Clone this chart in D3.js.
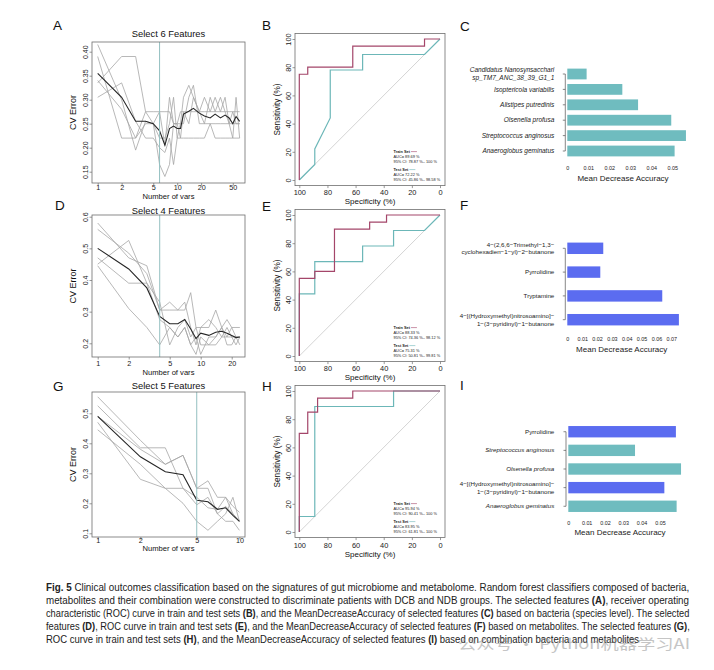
<!DOCTYPE html>
<html>
<head>
<meta charset="utf-8">
<script src="https://cdn.jsdelivr.net/npm/d3@7"></script>
<style>
  body { margin: 0; background: #fff; }
  svg { display: block; }
</style>
</head>
<body>
<svg id="fig" width="714" height="670"></svg>
<script>
// ---------- A: bacteria, rfcv ----------
const nVarsA = [1, 2, 3, 4, 5, 6, 7, 8, 9, 10, 11, 12, 14, 16, 19, 22, 26, 30, 35, 40, 45, 50, 55, 61];
const cvMeanA = [0.355, 0.305, 0.255, 0.255, 0.25, 0.235, 0.205, 0.24, 0.245, 0.24, 0.24, 0.27, 0.276, 0.282, 0.272, 0.266, 0.262, 0.27, 0.262, 0.268, 0.262, 0.25, 0.265, 0.255];
const cvRepsA = [
  [0.415, 0.300, 0.195, 0.255, 0.250, 0.220, 0.220, 0.250, 0.305, 0.220, 0.250, 0.305, 0.330, 0.305, 0.275, 0.305, 0.275, 0.305, 0.275, 0.305, 0.250, 0.275, 0.250, 0.250],
  [0.390, 0.220, 0.220, 0.250, 0.250, 0.165, 0.140, 0.165, 0.250, 0.250, 0.275, 0.275, 0.275, 0.275, 0.275, 0.275, 0.275, 0.275, 0.275, 0.275, 0.275, 0.275, 0.275, 0.275],
  [0.335, 0.390, 0.390, 0.275, 0.275, 0.275, 0.275, 0.275, 0.250, 0.250, 0.250, 0.250, 0.305, 0.330, 0.250, 0.250, 0.250, 0.250, 0.250, 0.250, 0.250, 0.250, 0.250, 0.250],
  [0.305, 0.335, 0.255, 0.220, 0.220, 0.200, 0.190, 0.220, 0.165, 0.220, 0.220, 0.275, 0.250, 0.305, 0.275, 0.250, 0.305, 0.275, 0.305, 0.275, 0.250, 0.220, 0.305, 0.220],
  [0.340, 0.280, 0.220, 0.275, 0.250, 0.275, 0.205, 0.305, 0.250, 0.250, 0.220, 0.220, 0.220, 0.220, 0.220, 0.220, 0.250, 0.220, 0.220, 0.220, 0.220, 0.220, 0.220, 0.220]
];

// ---------- D: metabolites, rfcv ----------
const nVarsD = [1, 2, 3, 4, 5, 6, 7, 8, 9, 10, 12, 14, 16, 18, 20, 22, 24];
const cvMeanD = [0.500, 0.435, 0.375, 0.285, 0.262, 0.262, 0.275, 0.245, 0.215, 0.232, 0.225, 0.235, 0.238, 0.232, 0.225, 0.218, 0.220];
const cvRepsD = [
  [0.580, 0.470, 0.445, 0.305, 0.305, 0.305, 0.305, 0.360, 0.250, 0.250, 0.250, 0.305, 0.250, 0.275, 0.250, 0.250, 0.250],
  [0.560, 0.485, 0.420, 0.305, 0.330, 0.305, 0.330, 0.250, 0.195, 0.250, 0.275, 0.250, 0.220, 0.250, 0.220, 0.220, 0.195],
  [0.450, 0.525, 0.390, 0.275, 0.250, 0.220, 0.250, 0.195, 0.220, 0.165, 0.220, 0.220, 0.250, 0.220, 0.220, 0.195, 0.220],
  [0.470, 0.390, 0.390, 0.330, 0.195, 0.250, 0.275, 0.220, 0.250, 0.195, 0.195, 0.195, 0.220, 0.220, 0.250, 0.220, 0.220],
  [0.445, 0.310, 0.250, 0.195, 0.250, 0.220, 0.250, 0.195, 0.165, 0.220, 0.195, 0.220, 0.250, 0.195, 0.195, 0.220, 0.220]
];

// ---------- G: combination, rfcv ----------
const nVarsG = [1, 2, 3, 4, 5, 6, 7, 8, 9, 10];
const cvMeanG = [0.490, 0.355, 0.305, 0.295, 0.210, 0.205, 0.180, 0.185, 0.160, 0.140];
const cvRepsG = [
  [0.555, 0.410, 0.330, 0.360, 0.250, 0.275, 0.220, 0.220, 0.190, 0.170],
  [0.525, 0.385, 0.385, 0.250, 0.220, 0.185, 0.180, 0.220, 0.165, 0.140],
  [0.470, 0.280, 0.250, 0.250, 0.195, 0.220, 0.165, 0.140, 0.140, 0.110],
  [0.445, 0.330, 0.250, 0.200, 0.140, 0.110, 0.140, 0.165, 0.220, 0.140],
  [0.490, 0.380, 0.330, 0.360, 0.250, 0.250, 0.165, 0.190, 0.165, 0.140]
];

// ---------- ROC curves: [specificity %, sensitivity %] ----------
const rocTrainB = [[100, 0], [100, 75], [94, 75], [94, 80], [62, 80], [62, 95], [11, 95], [11, 100], [0, 100]];
const rocTestB = [[100, 0], [89, 11], [89, 22], [78, 44], [78, 78], [55, 78], [55, 89], [11, 89], [0, 100]];
const rocTrainE = [[100, 0], [100, 55], [89, 55], [89, 60], [75, 60], [75, 90], [50, 90], [50, 95], [38, 95], [38, 100], [0, 100]];
const rocTestE = [[100, 0], [100, 44], [89, 44], [89, 67], [55, 67], [55, 78], [33, 78], [33, 89], [11, 89], [0, 100]];
const rocTrainH = [[100, 0], [100, 70], [94, 70], [94, 85], [87, 85], [87, 95], [62, 95], [62, 100], [0, 100]];
const rocTestH = [[100, 0], [100, 11], [89, 11], [89, 89], [33, 89], [33, 100], [0, 100]];
const rocTicks = [100, 80, 60, 40, 20, 0];
const statsB = ['AUC= 89.69 %', '95% CI: 78.87 %\u2013 100 %', 'AUC= 72.22 %', '95% CI: 45.86 %\u2013 98.58 %'];
const statsE = ['AUC= 88.33 %', '95% CI: 74.36 %\u2013 98.12 %', 'AUC= 75.31 %', '95% CI: 50.81 %\u2013 99.81 %'];
const statsH = ['AUC= 95.94 %', '95% CI: 90.41 %\u2013 100 %', 'AUC= 83.95 %', '95% CI: 61.81 %\u2013 100 %'];

// ---------- Mean decrease accuracy (top to bottom) ----------
const featuresC = ['Candidatus Nanosynsacchari\nsp_TM7_ANC_38_39_G1_1', 'Isoptericola variabilis', 'Alistipes putredinis',
  'Olsenella profusa', 'Streptococcus anginosus', 'Anaeroglobus geminatus'];
const mdaC = [0.0092, 0.0262, 0.0337, 0.0495, 0.0565, 0.0511];
const kindC = ['bac', 'bac', 'bac', 'bac', 'bac', 'bac'];
const ticksC = [0, 0.01, 0.02, 0.03, 0.04, 0.05];

const featuresF = ['4\u2212(2,6,6\u2212Trimethyl\u22121,3\u2212\ncyclohexadien\u22121\u2212yl)\u22122\u2212butanone', 'Pyrrolidine', 'Tryptamine',
  '4\u2212[(Hydroxymethyl)nitrosoamino]\u2212\n1\u2212(3\u2212pyridinyl)\u22121\u2212butanone'];
const mdaF = [0.0242, 0.0222, 0.0639, 0.0751];
const kindF = ['met', 'met', 'met', 'met'];
const ticksF = [0, 0.01, 0.02, 0.03, 0.04, 0.05, 0.06, 0.07];

const featuresI = ['Pyrrolidine', 'Streptococcus anginosus', 'Olsenella profusa',
  '4\u2212[(Hydroxymethyl)nitrosoamino]\u2212\n1\u2212(3\u2212pyridinyl)\u22121\u2212butanone', 'Anaeroglobus geminatus'];
const mdaI = [0.0587, 0.0364, 0.0615, 0.0524, 0.0591];
const kindI = ['met', 'bac', 'bac', 'met', 'bac'];
const ticksI = [0, 0.01, 0.02, 0.03, 0.04, 0.05];

const captionLines = [
  '**Fig. 5** Clinical outcomes classification based on the signatures of gut microbiome and metabolome. Random forest classifiers composed of bacteria,',
  'metabolites and their combination were constructed to discriminate patients with DCB and NDB groups. The selected features **(A)**, receiver operating',
  'characteristic (ROC) curve in train and test sets **(B)**, and the MeanDecreaseAccuracy of selected features **(C)** based on bacteria (species level). The selected',
  'features **(D)**, ROC curve in train and test sets **(E)**, and the MeanDecreaseAccuracy of selected features **(F)** based on metabolites. The selected features **(G)**,',
  'ROC curve in train and test sets **(H)**, and the MeanDecreaseAccuracy of selected features **(I)** based on combination bacteria and metabolites'
];
const captionWidths = [644, 644, 644, 644, 594];

// ================= drawing =================
const FONT = '"Liberation Sans", Arial, Helvetica, sans-serif';
const svg = d3.select('#fig').attr('font-family', FONT);

const greyCol = '#a6a6a6', meanCol = '#262626', selCol = '#93bfc0', boxCol = '#6e6e6e';
const trainCol = '#a4466a', testCol = '#6cb7b8';
const barCol = { bac: '#6fbcbf', met: '#5b6cf0' };

function letter(t, x, y) {
  svg.append('text').attr('x', x).attr('y', y).attr('font-size', 13.5).attr('fill', '#111').text(t);
}

function box(g, b) {
  g.append('rect').attr('x', b[0]).attr('y', b[2]).attr('width', b[1] - b[0]).attr('height', b[3] - b[2])
    .attr('fill', 'none').attr('stroke', boxCol).attr('stroke-width', 0.8);
}

function yAxisRot(g, scale, ticks, fmt, x0, off, fs) {
  const ax = g.append('g').attr('transform', `translate(${x0},0)`)
    .call(d3.axisLeft(scale).tickValues(ticks).tickFormat(fmt).tickSize(2.5));
  ax.select('.domain').remove();
  ax.attr('font-family', FONT).attr('font-size', fs);
  ax.selectAll('line').attr('stroke', boxCol).attr('stroke-width', 0.7);
  ax.selectAll('text').attr('transform', 'rotate(-90)').attr('x', 0).attr('y', -off).attr('dy', 0)
    .attr('text-anchor', 'middle').attr('fill', '#222');
}

function xAxis(g, scale, ticks, fmt, y0, base, fs) {
  const ax = g.append('g').attr('transform', `translate(0,${y0})`)
    .call(d3.axisBottom(scale).tickValues(ticks).tickFormat(fmt).tickSize(2.5).tickPadding(0));
  ax.select('.domain').remove();
  ax.attr('font-family', FONT).attr('font-size', fs);
  ax.selectAll('line').attr('stroke', boxCol).attr('stroke-width', 0.7);
  ax.selectAll('text').attr('y', base - y0).attr('dy', 0).attr('fill', '#222');
}

function cvPanel(o) {
  const g = svg.append('g');
  const b = o.box;
  const x = d3.scaleLog().domain([1, 10]).range([97.7, 97.7 + o.decade]);
  const y = d3.scaleLinear().domain(o.yCal).range(o.yPix);
  const line = d3.line().x((d, i) => x(o.xs[i])).y(d => y(d));

  g.append('text').attr('x', (b[0] + b[1]) / 2).attr('y', o.titleY).attr('text-anchor', 'middle')
    .attr('font-size', 9.4).attr('fill', '#111').text(o.title);

  g.selectAll('.rep').data(o.reps).join('path').attr('class', 'rep')
    .attr('d', line).attr('fill', 'none').attr('stroke', greyCol).attr('stroke-width', 0.8);
  g.append('path').attr('d', line(o.mean)).attr('fill', 'none').attr('stroke', meanCol).attr('stroke-width', 1.1);
  g.append('line').attr('x1', x(o.sel)).attr('x2', x(o.sel)).attr('y1', b[2]).attr('y2', b[3])
    .attr('stroke', selCol).attr('stroke-width', 1);
  box(g, b);

  yAxisRot(g, y, o.yticks, d3.format(o.yfmt), b[0], 4, 7);
  xAxis(g, x, o.xticks, d3.format('d'), b[3], o.tickBase, 7.2);

  g.append('text').attr('x', (b[0] + b[1]) / 2).attr('y', o.xlabY).attr('text-anchor', 'middle')
    .attr('font-size', 7.6).attr('fill', '#111').text('Number of vars');
  g.append('text').attr('transform', `translate(75.5,${(b[2] + b[3]) / 2}) rotate(-90)`)
    .attr('text-anchor', 'middle').attr('font-size', 9).attr('fill', '#111').text('CV Error');
}

function rocPanel(o) {
  const g = svg.append('g');
  const b = o.box;
  const x = d3.scaleLinear().domain([100, 0]).range([299.3, 440]);
  const y = d3.scaleLinear().domain([0, 100]).range(o.yRange);
  const line = d3.line().x(d => x(d[0])).y(d => y(d[1]));

  g.append('line').attr('x1', x(100)).attr('y1', y(0)).attr('x2', x(0)).attr('y2', y(100))
    .attr('stroke', '#c9c9c9').attr('stroke-width', 0.8);
  g.append('path').attr('d', line(o.test)).attr('fill', 'none').attr('stroke', testCol).attr('stroke-width', 1.2);
  g.append('path').attr('d', line(o.train)).attr('fill', 'none').attr('stroke', trainCol).attr('stroke-width', 1.2);
  box(g, b);

  yAxisRot(g, y, rocTicks, d3.format('d'), b[0], 4.2, 7.4);
  xAxis(g, x, rocTicks, d3.format('d'), b[3], o.tickBase, 7.4);

  g.append('text').attr('x', (b[0] + b[1]) / 2).attr('y', o.xlabY).attr('text-anchor', 'middle')
    .attr('font-size', 8).attr('fill', '#111').text('Specificity (%)');
  g.append('text').attr('transform', `translate(279.7,${(o.yRange[0] + o.yRange[1]) / 2}) rotate(-90)`)
    .attr('text-anchor', 'middle').attr('font-size', 8.2).attr('fill', '#111').text('Sensitivity (%)');

  // legend block
  const off = [-34, -29, -24, -16, -11, -6];
  const rows = [['Train Set', trainCol], [o.stats[0]], [o.stats[1]], ['Test Set', testCol], [o.stats[2]], [o.stats[3]]];
  rows.forEach((r, i) => {
    const t = g.append('text').attr('x', 393.5).attr('y', b[3] + off[i] + 1.4)
      .attr('font-size', 3.9).attr('fill', '#222').text(r[0]);
    if (r[1]) {
      t.attr('font-weight', 'bold');
      const w = t.node().getComputedTextLength();
      g.append('line').attr('x1', 393.5 + w + 1).attr('x2', 393.5 + w + 7)
        .attr('y1', b[3] + off[i]).attr('y2', b[3] + off[i]).attr('stroke', r[1]).attr('stroke-width', 0.6);
    }
  });
}

function barPanel(o) {
  const g = svg.append('g');
  const x = d3.scaleLinear().domain([0, 0.01]).range([o.x0, o.x0 + o.per01]);
  const y = d3.scaleBand().domain(o.names).range(o.yRange).paddingInner(o.pad).paddingOuter(o.pad / 2);
  const bw = y.bandwidth();

  g.selectAll('rect').data(o.names).join('rect')
    .attr('x', x(0)).attr('y', d => y(d)).attr('height', bw)
    .attr('width', (d, i) => x(o.values[i]) - x(0))
    .attr('fill', (d, i) => barCol[o.kinds[i]]);

  // left axis: line between first and last tick, short ticks at bar centres
  const ax = g.append('g').attr('transform', `translate(${o.axisX},0)`)
    .call(d3.axisLeft(y).tickSize(2.5).tickFormat(''));
  ax.select('.domain').remove();
  ax.selectAll('line').attr('stroke', '#555').attr('stroke-width', 0.7);
  g.append('line').attr('x1', o.axisX).attr('x2', o.axisX)
    .attr('y1', y(o.names[0]) + bw / 2).attr('y2', y(o.names[o.names.length - 1]) + bw / 2)
    .attr('stroke', '#555').attr('stroke-width', 0.7);

  // category labels (may be two lines)
  o.names.forEach((n, i) => {
    const parts = n.split('\n');
    const cy = y(n) + bw / 2;
    const t = g.append('text').attr('text-anchor', 'end').attr('font-size', o.fs).attr('fill', '#222')
      .attr('font-style', o.kinds[i] === 'bac' ? 'italic' : 'normal');
    parts.forEach((p, j) => {
      t.append('tspan').attr('x', 554.3)
        .attr('y', cy + 2.1 + (j - (parts.length - 1) / 2) * 7.8).text(p);
    });
  });

  const xa = g.append('g').attr('transform', `translate(0,${o.tickBase})`)
    .call(d3.axisBottom(x).tickValues(o.ticks).tickSize(0).tickPadding(0)
      .tickFormat(d => d === 0 ? '0' : d3.format('.2f')(d)));
  xa.select('.domain').remove();
  xa.attr('font-family', FONT).attr('font-size', 5.4);
  xa.selectAll('text').attr('y', 0).attr('dy', 0).attr('fill', '#222');

  g.append('text').attr('x', o.titleX).attr('y', o.titleY).attr('text-anchor', 'middle')
    .attr('font-size', 8).attr('fill', '#222').text('Mean Decrease Accuracy');
}

// ---- panels ----
cvPanel({ box: [92, 245, 42, 183], decade: 79.5, yCal: [0.15, 0.40], yPix: [171.7, 51.7],
  xs: nVarsA, mean: cvMeanA, reps: cvRepsA, sel: 6, title: 'Select 6 Features', titleY: 37,
  yticks: [0.15, 0.20, 0.25, 0.30, 0.35, 0.40], yfmt: '.2f', xticks: [1, 2, 5, 10, 20, 50],
  tickBase: 190, xlabY: 199 });
cvPanel({ box: [92, 245, 215, 357], decade: 103, yCal: [0.2, 0.6], yPix: [343.3, 216.7],
  xs: nVarsD, mean: cvMeanD, reps: cvRepsD, sel: 4, title: 'Select 4 Features', titleY: 214,
  yticks: [0.2, 0.3, 0.4, 0.5, 0.6], yfmt: '.1f', xticks: [1, 2, 5, 10, 20],
  tickBase: 366, xlabY: 375 });
cvPanel({ box: [92, 245, 392, 537], decade: 141.7, yCal: [0.1, 0.5], yPix: [533.3, 413.3],
  xs: nVarsG, mean: cvMeanG, reps: cvRepsG, sel: 5, title: 'Select 5 Features', titleY: 389,
  yticks: [0.1, 0.2, 0.3, 0.4, 0.5], yfmt: '.1f', xticks: [1, 2, 5, 10],
  tickBase: 542.5, xlabY: 551.3 });

rocPanel({ box: [295, 445, 33.4, 185.6], yRange: [180, 39], train: rocTrainB, test: rocTestB,
  stats: statsB, tickBase: 195.3, xlabY: 204 });
rocPanel({ box: [295, 445, 209.4, 361.6], yRange: [356, 215], train: rocTrainE, test: rocTestE,
  stats: statsE, tickBase: 371, xlabY: 380 });
rocPanel({ box: [295, 445, 385.4, 537.6], yRange: [532, 391], train: rocTrainH, test: rocTestH,
  stats: statsH, tickBase: 548.2, xlabY: 556.5 });

barPanel({ names: featuresC, values: mdaC, kinds: kindC, ticks: ticksC, x0: 567.3, per01: 21,
  yRange: [66.3, 158.7], pad: 0.3, axisX: 565.3, fs: 6.5, tickBase: 169.7, titleX: 623, titleY: 180.5 });
barPanel({ names: featuresF, values: mdaF, kinds: kindF, ticks: ticksF, x0: 567.3, per01: 14.86,
  yRange: [236.4, 331.6], pad: 0.52, axisX: 565.3, fs: 6.2, tickBase: 341, titleX: 621.7, titleY: 352 });
barPanel({ names: featuresI, values: mdaI, kinds: kindI, ticks: ticksI, x0: 568.3, per01: 18.33,
  yRange: [422.4, 515.6], pad: 0.39, axisX: 566, fs: 6.2, tickBase: 524.7, titleX: 620, titleY: 535 });

letter('A', 53, 30); letter('B', 262, 30); letter('C', 460, 31);
letter('D', 55, 210); letter('E', 262, 211); letter('F', 460, 210);
letter('G', 53, 391); letter('H', 262, 391); letter('I', 460, 390);

// ---- caption: each line set at 10px then squeezed horizontally to its column width ----
const cap = svg.append('g');
captionLines.forEach((ln, i) => {
  const t = cap.append('text').attr('x', 0).attr('y', 0).attr('font-size', 10).attr('fill', '#222');
  ln.split(/(\*\*.*?\*\*)/).filter(s => s.length).forEach(s => {
    const bold = s.startsWith('**');
    t.append('tspan').attr('font-weight', bold ? 'bold' : 'normal').text(bold ? s.slice(2, -2) : s);
  });
  const k = captionWidths[i] / t.node().getComputedTextLength();
  t.attr('transform', `translate(46,${590.5 + i * 13.1}) scale(${k},1)`);
});
cap.append('text').attr('x', 458).attr('y', 648.5).attr('font-family', '"Noto Sans CJK SC", sans-serif')
  .attr('font-size', 14).attr('fill', '#8c8c8c').attr('opacity', 0.5)
  .attr('textLength', 232).attr('lengthAdjust', 'spacingAndGlyphs').text('公众号 · Python机器学习AI');
</script>
</body>
</html>
